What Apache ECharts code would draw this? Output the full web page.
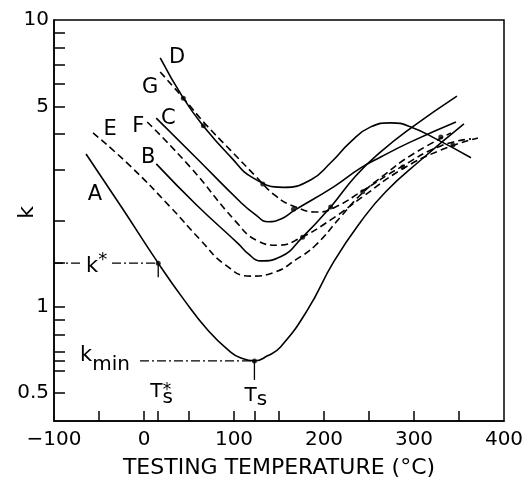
<!DOCTYPE html>
<html><head><meta charset="utf-8">
<script src="https://cdn.jsdelivr.net/npm/echarts@6/dist/echarts.min.js"></script>
<style>html,body{margin:0;padding:0;background:#fff}#c{width:522px;height:478px}</style>
</head><body><div id="c"></div>
<script>
// ---- data (temperature in °C, k on log scale) ----
const curveA_T = [-64.4, -24.3, 15.8, 43.7, 71.5, 96.0, 107.1, 122.7, 137.2, 151.7, 181.7, 210.7, 240.8, 268.6, 307.6, 355.5];
const curveA_k = [3.41, 2.21, 1.42, 1.066, 0.825, 0.697, 0.664, 0.648, 0.675, 0.725, 0.976, 1.435, 1.98, 2.52, 3.25, 4.34];
const curveB_T = [13.6, 58.1, 104.9, 116.0, 129.4, 151.7, 176.2, 207.4, 235.2, 263.0, 296.4, 347.7];
const curveB_k = [3.15, 2.27, 1.658, 1.53, 1.446, 1.494, 1.75, 2.23, 2.86, 3.47, 4.20, 5.43];
const curveC_T = [13.6, 60.4, 107.1, 122.7, 138.3, 152.8, 166.1, 210.7, 240.8, 263.0, 296.4, 346.6];
const curveC_k = [4.55, 3.25, 2.32, 2.11, 1.98, 2.03, 2.16, 2.62, 3.05, 3.33, 3.76, 4.41];
const curveD_T = [18.0, 43.7, 65.9, 96.0, 121.6, 155.0, 185.1, 207.4, 229.6, 251.9, 274.2, 296.4, 326.5, 363.3];
const curveD_k = [7.38, 5.34, 4.27, 3.34, 2.81, 2.61, 2.77, 3.18, 3.76, 4.24, 4.38, 4.24, 3.82, 3.31];
const curveE_T = [-56.6, -15.4, 29.2, 62.6, 90.4, 118.3, 146.1, 168.4, 190.6, 218.5, 243.0, 268.6, 296.4, 341.0];
const curveE_k = [4.04, 3.10, 2.23, 1.712, 1.40, 1.28, 1.324, 1.458, 1.64, 2.06, 2.50, 2.91, 3.37, 4.04];
const curveF_T = [3.6, 51.4, 101.6, 126.1, 149.4, 173.9, 207.4, 243.0, 285.3, 329.8, 371.0];
const curveF_k = [4.41, 3.07, 1.99, 1.70, 1.64, 1.74, 2.01, 2.42, 3.00, 3.52, 3.88];
const curveG_T = [18.0, 43.7, 68.2, 96.0, 123.8, 146.1, 168.4, 192.9, 212.9, 243.0, 285.3, 329.8, 363.3];
const curveG_k = [6.59, 5.34, 4.34, 3.52, 2.86, 2.44, 2.23, 2.14, 2.23, 2.54, 3.07, 3.64, 3.85];
// marked points
const dotT = [15.8, 122.7, 43.7, 66.0, 132.0, 166.1, 176.2, 207.4, 243.0, 287.5, 329.8, 343.2];
const dotK = [1.42, 0.648, 5.34, 4.28, 2.68, 2.19, 1.75, 2.23, 2.52, 3.07, 3.91, 3.67];
// characteristic values
const TsStar = 15.8, kStar = 1.42;
const Ts = 122.7, kMin = 0.648;
// axis ticks / labels
const xLabelValues = [-100, 0, 100, 200, 300, 400];
const xTickValues = [-50, 0, 50, 100, 150, 200, 250, 300, 350];
const yLabelValues = [0.5, 1, 5, 10];
const yTickValues = [0.5, 0.6, 0.7, 0.8, 0.9, 1, 2, 3, 4, 5, 6, 7, 8, 9];
const curveNames = ['A', 'B', 'C', 'D', 'E', 'F', 'G'];

const FONT = 'DejaVu Sans';
const zip = (a, b) => a.map((v, i) => [v, b[i]]);
const curves = {
  A: zip(curveA_T, curveA_k), B: zip(curveB_T, curveB_k), C: zip(curveC_T, curveC_k),
  D: zip(curveD_T, curveD_k), E: zip(curveE_T, curveE_k), F: zip(curveF_T, curveF_k),
  G: zip(curveG_T, curveG_k)
};
const dashed = { E: true, F: true, G: true };

const series = curveNames.map(n => ({
  name: n, type: 'line', data: curves[n], smooth: 0.5, symbol: 'none',
  lineStyle: { color: '#000', width: 1.6, type: dashed[n] ? [7, 4] : 'solid' },
  z: 3
}));
series.push({
  name: 'points', type: 'scatter', data: zip(dotT, dotK), symbol: 'circle', symbolSize: 5,
  itemStyle: { color: '#000' }, z: 5
});

const chart = echarts.init(document.getElementById('c'), null, { renderer: 'canvas' });
const option = {
  animation: false,
  backgroundColor: '#fff',
  grid: { left: 54, right: 18, top: 20, bottom: 57, show: true, borderColor: '#000', borderWidth: 1.5,
    containLabel: false, outerBoundsMode: 'none' },
  xAxis: {
    type: 'value', min: -100, max: 400,
    name: 'TESTING TEMPERATURE (°C)', nameLocation: 'middle', nameGap: 36,
    nameTextStyle: { fontFamily: FONT, fontSize: 22, color: '#000' },
    axisLine: { show: true, onZero: false, lineStyle: { color: '#000', width: 1.5 } },
    axisTick: { show: true, inside: true, length: 10, lineStyle: { color: '#000', width: 1.5 },
      customValues: xTickValues.concat([TsStar, Ts]) },
    axisLabel: { customValues: xLabelValues, margin: 9, fontFamily: FONT, fontSize: 20, color: '#000',
      formatter: v => v < 0 ? '\u2212' + Math.abs(v) : String(v) },
    splitLine: { show: false }
  },
  yAxis: {
    type: 'log', logBase: 10, min: 0.4, max: 10,
    axisLine: { show: true, onZero: false, lineStyle: { color: '#000', width: 1.5 } },
    axisTick: { show: true, inside: true, length: 11, lineStyle: { color: '#000', width: 1.5 },
      customValues: yTickValues.concat([kStar, kMin]) },
    axisLabel: { customValues: yLabelValues, margin: 5, fontFamily: FONT, fontSize: 20, color: '#000',
      formatter: v => String(v) },
    splitLine: { show: false }
  },
  series: series
};
chart.setOption(option);

// ---- annotations positioned through the chart's own scales ----
const P = (t, k) => chart.convertToPixel({ gridIndex: 0 }, [t, k]);
const axisLeft = P(-100, 1)[0];
const pStar = P(TsStar, kStar), pMin = P(Ts, kMin);
const dashDot = { stroke: '#000', lineWidth: 1.2, lineDash: [9, 3, 2, 3] };
const g = [];
// y-axis title "k"
const yMid = P(0, 2)[1];
g.push({ type: 'text', x: 27, y: yMid - 8, rotation: Math.PI / 2, style: {
  text: 'k', fill: '#000', font: '22px "DejaVu Sans"', align: 'center', verticalAlign: 'middle' } });
g.push({ type: 'line', shape: { x1: axisLeft, y1: pStar[1], x2: axisLeft + 29, y2: pStar[1] }, style: dashDot });
g.push({ type: 'line', shape: { x1: axisLeft + 58, y1: pStar[1], x2: pStar[0], y2: pStar[1] }, style: dashDot });
g.push({ type: 'line', shape: { x1: pStar[0], y1: pStar[1], x2: pStar[0], y2: pStar[1] + 14 }, style: { stroke: '#000', lineWidth: 1.3 } });
g.push({ type: 'line', shape: { x1: axisLeft + 86, y1: pMin[1], x2: pMin[0], y2: pMin[1] }, style: dashDot });
g.push({ type: 'line', shape: { x1: pMin[0], y1: pMin[1], x2: pMin[0], y2: pMin[1] + 19 }, style: { stroke: '#000', lineWidth: 1.3 } });
g.push({ type: 'text', x: axisLeft + 32, y: pStar[1] - 12, style: {
  text: '{a|k}{s|*}', fill: '#000', align: 'left', verticalAlign: 'top',
  rich: { a: { fontFamily: FONT, fontSize: 21, lineHeight: 26, verticalAlign: 'bottom' },
          s: { fontFamily: FONT, fontSize: 18, lineHeight: 26, verticalAlign: 'top' } } } });
g.push({ type: 'text', x: axisLeft + 26, y: pMin[1] - 16, style: {
  text: '{a|k}{m|min}', fill: '#000', align: 'left', verticalAlign: 'top',
  rich: { a: { fontFamily: FONT, fontSize: 21, lineHeight: 30, verticalAlign: 'top' },
          m: { fontFamily: FONT, fontSize: 20, lineHeight: 30, verticalAlign: 'bottom' } } } });
const xAxisY = P(0, 0.4)[1];
g.push({ type: 'text', x: pStar[0] - 8, y: xAxisY - 39, style: {
  text: '{t|T}{s|s}{x|*}', fill: '#000', align: 'left', verticalAlign: 'top',
  rich: { t: { fontFamily: FONT, fontSize: 20, lineHeight: 26, verticalAlign: 'top' },
          s: { fontFamily: FONT, fontSize: 20, lineHeight: 26, verticalAlign: 'bottom' },
          x: { fontFamily: FONT, fontSize: 17, lineHeight: 26, verticalAlign: 'top', padding: [0, 0, 0, -10] } } } });
g.push({ type: 'text', x: pMin[0] - 10, y: xAxisY - 35, style: {
  text: '{t|T}{s|s}', fill: '#000', align: 'left', verticalAlign: 'top',
  rich: { t: { fontFamily: FONT, fontSize: 20, lineHeight: 24, verticalAlign: 'top' },
          s: { fontFamily: FONT, fontSize: 20, lineHeight: 24, verticalAlign: 'bottom' } } } });
// curve letters, placed relative to the first point of each curve
const labelOffset = { A: [9, 41], B: [-8, -6], C: [12, 0], D: [17, 0], E: [17, -3], F: [-9, 5], G: [-10, 16] };
curveNames.forEach(n => {
  const p = P(curves[n][0][0], curves[n][0][1]);
  g.push({ type: 'text', x: p[0] + labelOffset[n][0], y: p[1] + labelOffset[n][1], style: {
    text: n, fill: '#000', font: '21px "DejaVu Sans"', align: 'center', verticalAlign: 'middle' } });
});
chart.setOption({ graphic: { elements: g } });
</script></body></html>
